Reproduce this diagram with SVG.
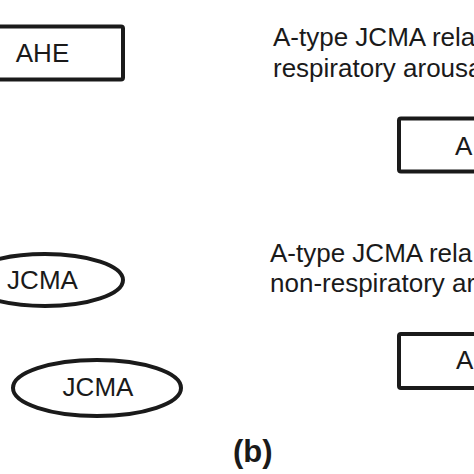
<svg xmlns="http://www.w3.org/2000/svg" width="474" height="474" viewBox="0 0 474 474">
  <style>
    .box { fill: #ffffff; stroke: #1a1a1a; stroke-width: 4; }
    .t { font-family: "Liberation Sans", Arial, sans-serif; font-size: 26px; fill: #1a1a1a; }
    .lbl { font-family: "Liberation Sans", Arial, sans-serif; font-size: 26px; fill: #1a1a1a; }
    .cap { font-family: "Liberation Sans", Arial, sans-serif; font-size: 31px; font-weight: bold; fill: #1a1a1a; }
  </style>
  <rect width="474" height="474" fill="#ffffff"/>
  <g id="connectors"></g>
  <g id="node-ahe">
    <rect class="box" x="-40" y="26.5" width="163" height="53" rx="2"/>
    <text class="t" x="42.5" y="62" text-anchor="middle">AHE</text>
  </g>
  <g id="label-respiratory">
    <text class="lbl" x="273" y="46">A-type JCMA rela</text>
    <text class="lbl" x="273" y="77">respiratory arousa</text>
  </g>
  <g id="node-a-top">
    <rect class="box" x="399" y="118.5" width="100" height="53" rx="2"/>
    <text class="t" x="455" y="155">A</text>
  </g>
  <g id="node-jcma-1">
    <ellipse class="box" cx="45" cy="280" rx="78" ry="26"/>
    <text class="t" x="42.5" y="289" text-anchor="middle">JCMA</text>
  </g>
  <g id="label-nonrespiratory">
    <text class="lbl" x="270" y="262">A-type JCMA rela</text>
    <text class="lbl" x="270" y="292">non-respiratory ar</text>
  </g>
  <g id="node-jcma-2">
    <ellipse class="box" cx="97" cy="388" rx="84" ry="28"/>
    <text class="t" x="98" y="396" text-anchor="middle">JCMA</text>
  </g>
  <g id="node-a-bottom">
    <rect class="box" x="399" y="334" width="100" height="54" rx="2"/>
    <text class="t" x="456" y="369">A</text>
  </g>
  <g id="caption">
    <text class="cap" x="233" y="462">(b)</text>
  </g>
</svg>
